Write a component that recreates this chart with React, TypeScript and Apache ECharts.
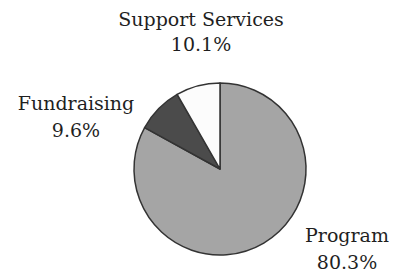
import React, { useEffect, useRef } from "react";
import * as echarts from "echarts";

const categories = ["Program", "Fundraising", "Support Services"];
// slice sizes as drawn in the picture
const sliceValues = [83.0, 8.7, 8.3];
// percentage texts printed in the labels
const labelPercents = ["80.3%", "9.6%", "10.1%"];
const colors = ["#a5a5a5", "#4b4b4b", "#fcfcfc"];

const labelPos = [
  { x: 347, y: 234.5, dy: 27.5 },
  { x: 76, y: 102.5, dy: 27.5 },
  { x: 201, y: 18.5, dy: 25 },
];

const FONT = "DejaVu Serif";

export default function App() {
  const ref = useRef<HTMLDivElement>(null);
  useEffect(() => {
    if (!ref.current) return;
    const chart = echarts.init(ref.current, null, { renderer: "svg" });
    const texts: any[] = [];
    categories.forEach((c, i) => {
      [c, labelPercents[i]].forEach((t, k) => {
        texts.push({
          type: "text",
          x: labelPos[i].x,
          y: labelPos[i].y + k * labelPos[i].dy,
          style: {
            text: t,
            fontFamily: FONT,
            fontSize: 19,
            lineHeight: 19,
            fill: "#1f1f1f",
            align: "center",
            verticalAlign: "middle",
          },
        });
      });
    });
    chart.setOption({
      animation: false,
      backgroundColor: "#ffffff",
      graphic: texts,
      series: [
        {
          type: "pie",
          center: [220, 169],
          radius: 86,
          startAngle: 90,
          clockwise: true,
          data: categories.map((c, i) => ({
            name: c,
            value: sliceValues[i],
            itemStyle: { color: colors[i] },
          })),
          itemStyle: { borderColor: "#333333", borderWidth: 1.5 },
          label: { show: false },
          labelLine: { show: false },
          emphasis: { disabled: true },
        },
      ],
    });
    return () => chart.dispose();
  }, []);
  return <div ref={ref} style={{ width: 393, height: 272, position: "absolute", left: 0, top: 0 }} />;
}
